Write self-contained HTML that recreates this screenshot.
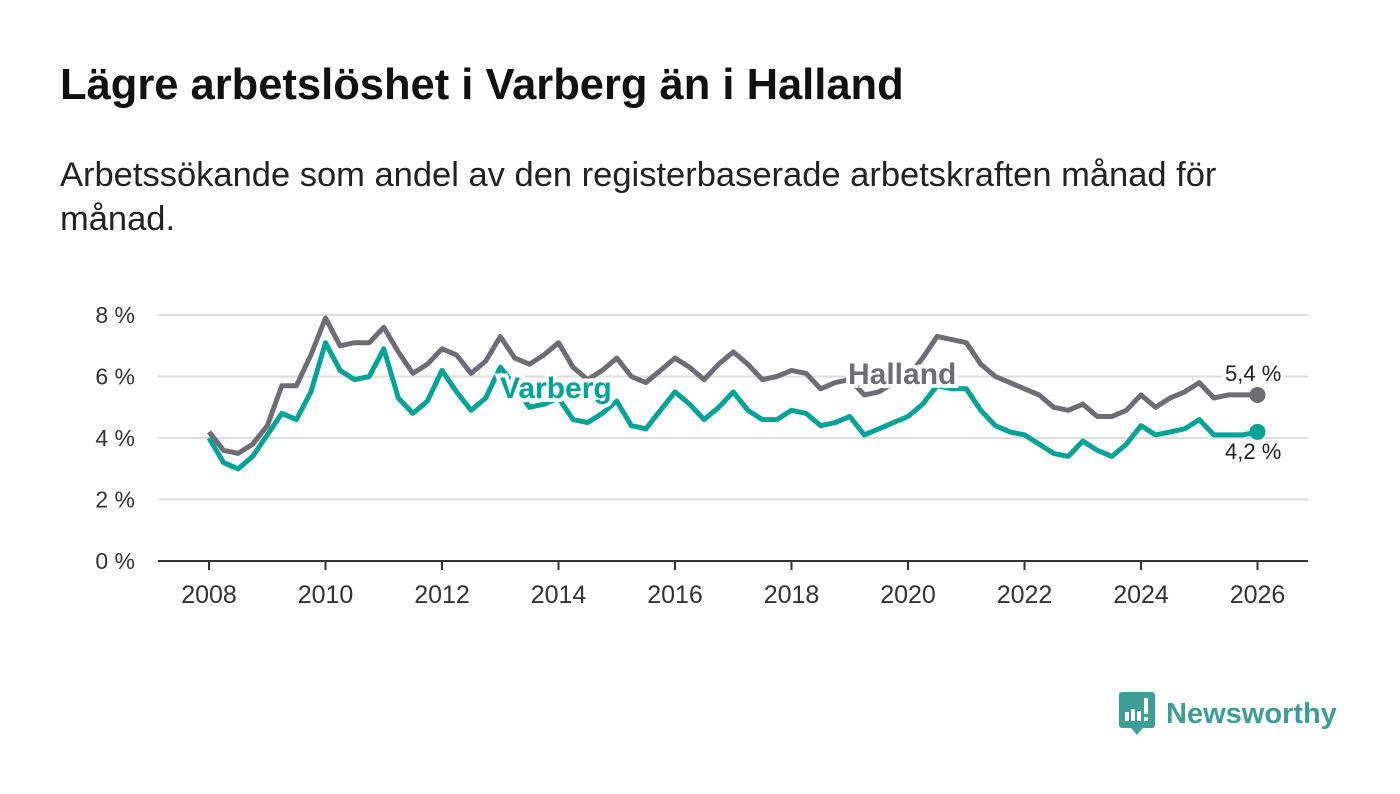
<!DOCTYPE html>
<html><head><meta charset="utf-8"><style>
body{margin:0;width:1400px;height:794px;background:#fff;font-family:"Liberation Sans",sans-serif;overflow:hidden;position:relative}
h1{position:absolute;left:60px;top:61px;margin:0;font-size:43.5px;font-weight:bold;color:#111}
.sub{position:absolute;left:60px;top:153px;width:1320px;font-size:34.5px;line-height:44px;color:#222}
svg{position:absolute;left:0;top:0}
</style></head><body>
<h1>Lägre arbetslöshet i Varberg än i Halland</h1>
<div class="sub">Arbetssökande som andel av den registerbaserade arbetskraften månad för<br>månad.</div>
<svg id="c" width="1400" height="794"></svg>
<div style="position:absolute;left:1119px;top:692px;display:flex;align-items:center">
<svg width="36" height="44" style="position:static" viewBox="0 0 36 44"><path d="M3 0h30a3 3 0 0 1 3 3v30a3 3 0 0 1-3 3H24l-6 7-6-7H3a3 3 0 0 1-3-3V3a3 3 0 0 1 3-3z" fill="#3d9e94"/><rect x="6" y="20" width="4" height="9" fill="#fff"/><rect x="12" y="17" width="4" height="12" fill="#fff"/><rect x="18" y="19" width="4" height="10" fill="#fff"/><rect x="25" y="6" width="4" height="16" fill="#fff"/><rect x="25" y="25" width="4" height="4" fill="#fff"/></svg>
<span style="font-size:29px;font-weight:bold;color:#3d9e94;margin-left:11px">Newsworthy</span></div>
<script>
const years=[2008,2010,2012,2014,2016,2018,2020,2022,2024,2026];
const yTicks=[0,2,4,6,8];
const startYear=2008;
const halland=[4.2,3.6,3.5,3.8,4.4,5.7,5.7,6.7,7.9,7.0,7.1,7.1,7.6,6.8,6.1,6.4,6.9,6.7,6.1,6.5,7.3,6.6,6.4,6.7,7.1,6.3,5.9,6.2,6.6,6.0,5.8,6.2,6.6,6.3,5.9,6.4,6.8,6.4,5.9,6.0,6.2,6.1,5.6,5.8,5.9,5.4,5.5,5.8,6.0,6.6,7.3,7.2,7.1,6.4,6.0,5.8,5.6,5.4,5.0,4.9,5.1,4.7,4.7,4.9,5.4,5.0,5.3,5.5,5.8,5.3,5.4,5.4,5.4];
const varberg=[4.0,3.2,3.0,3.4,4.1,4.8,4.6,5.5,7.1,6.2,5.9,6.0,6.9,5.3,4.8,5.2,6.2,5.5,4.9,5.3,6.3,5.7,5.0,5.1,5.3,4.6,4.5,4.8,5.2,4.4,4.3,4.9,5.5,5.1,4.6,5.0,5.5,4.9,4.6,4.6,4.9,4.8,4.4,4.5,4.7,4.1,4.3,4.5,4.7,5.1,5.7,5.6,5.6,4.9,4.4,4.2,4.1,3.8,3.5,3.4,3.9,3.6,3.4,3.8,4.4,4.1,4.2,4.3,4.6,4.1,4.1,4.1,4.2];
const NS='http://www.w3.org/2000/svg',svg=document.getElementById('c');
const X=y=>209+(y-2008)*58.25, Y=v=>561-v*30.75;
function mk(t,a,p){const e=document.createElementNS(NS,t);for(const k in a)e.setAttribute(k,a[k]);(p||svg).appendChild(e);return e;}
yTicks.forEach(v=>{
 const l=mk('line',{x1:158,x2:1308,y1:Y(v),y2:Y(v),stroke:v?'#ddd':'#333','stroke-width':2});
 
 
 const t=mk('text',{x:135,y:Y(v)+8,'text-anchor':'end','font-size':23,fill:'#333'});t.textContent=v+' %';
 
 
});
years.forEach(y=>{
 const k=mk('line',{x1:X(y),x2:X(y),y1:561,y2:570,stroke:'#333','stroke-width':2});
 
 
 const t=mk('text',{x:X(y),y:603,'text-anchor':'middle','font-size':25,fill:'#333'});t.textContent=y;
 
 
});
function line(d,c,n){
 const p=mk('path',{d:d.map((v,i)=>(i?'L':'M')+X(startYear+i/4).toFixed(1)+' '+Y(v).toFixed(1)).join(''),fill:'none',stroke:c,'stroke-width':5,'stroke-linejoin':'round'});
 
 
 const c2=mk('circle',{cx:X(startYear+(d.length-1)/4),cy:Y(d[d.length-1]),r:8,fill:c});
 
 
}
line(halland,'#6e6d73','halland');
line(varberg,'#00a396','varberg');
function lab(x,y,s,c,n,w,sz){
 const t=mk('text',{x:x,y:y,'font-size':sz,'font-weight':w,fill:c,stroke:'#fff','stroke-width':8,'paint-order':'stroke'});t.textContent=s;
 
 
}
lab(500,398,'Varberg','#00a396','varberg-label','bold',30);
lab(848,384,'Halland','#6e6d73','halland-label','bold',30);
lab(1225,381,'5,4 %','#222','halland-end-value','normal',22);
lab(1225,459,'4,2 %','#222','varberg-end-value','normal',22);
</script>
</body></html>
